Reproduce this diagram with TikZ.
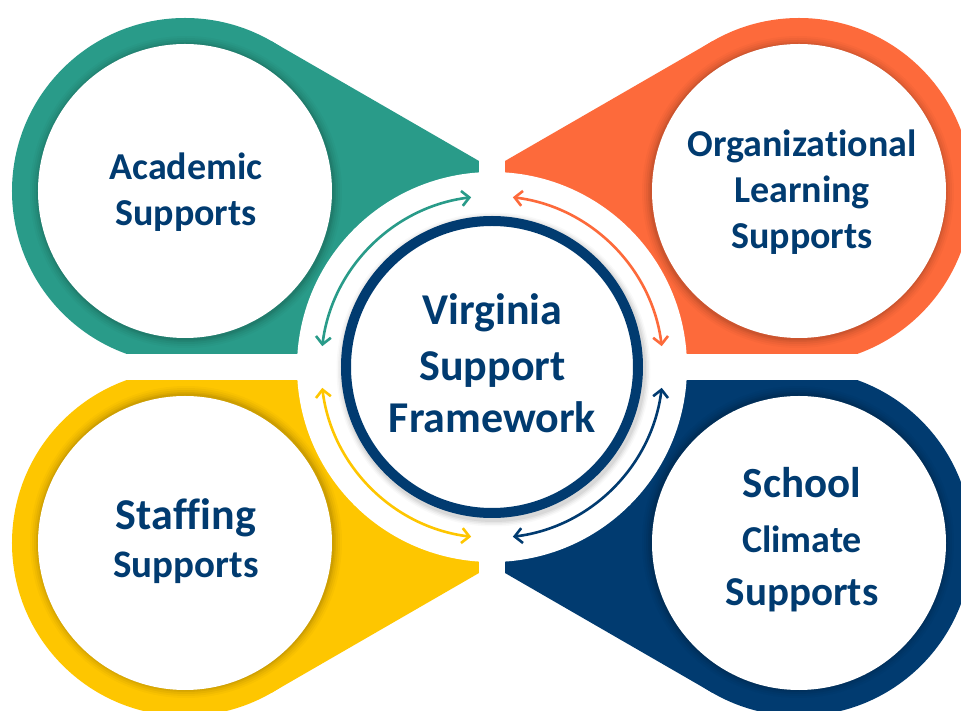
\documentclass[tikz,border=0pt]{standalone}
\usepackage{fontspec}
\setmainfont{Carlito}[Ligatures=NoCommon]
\usetikzlibrary{arrows.meta}
\definecolor{vgreen}{HTML}{299B89}
\definecolor{vorange}{HTML}{FD6A3B}
\definecolor{vyellow}{HTML}{FEC600}
\definecolor{vnavy}{HTML}{013B70}
\newcommand\vspetal[1]{%
  \fill[#1] (-307,176) circle[radius=173];
  \fill[#1] (-220.5,325.8) -- (0,198.5) -- (0,0) -- (-307,0) -- (-307,176) -- cycle;
  \foreach \k/\o in {9/0.025,7/0.03,5/0.04,3/0.05,1.5/0.06}
    \fill[black,opacity=\o] (-306,175) circle[radius=147+\k];
  \fill[white] (-307,176) circle[radius=147];
}
\begin{document}
\begin{tikzpicture}[x=1pt,y=1pt,
  lbl/.style={text=vnavy, anchor=base, inner sep=0pt},
  cyclearrow/.style={line width=2.6pt,
    {Straight Barb[length=7.5pt,width=15pt]}-{Straight Barb[length=7.5pt,width=15pt]}}]
\useasboundingbox (-492,-344) rectangle (469,367);
\clip (-492,-344) rectangle (469,367);
\fill[white] (-492,-344) rectangle (469,367);
% petals
\begin{scope}\vspetal{vgreen}\end{scope}
\begin{scope}[xscale=-1]\vspetal{vorange}\end{scope}
\begin{scope}[yscale=-1]\vspetal{vyellow}\end{scope}
\begin{scope}[scale=-1]\vspetal{vnavy}\end{scope}
% white gaps
\fill[white] (-13,-400) rectangle (13,400);
\fill[white] (-500,-13) rectangle (500,13);
\fill[white] (0,0) circle[radius=195];
% arrows
\draw[cyclearrow, vgreen] (97:171) arc[start angle=97, end angle=173, radius=171];
\draw[cyclearrow, vorange] (7:171) arc[start angle=7, end angle=83, radius=171];
\draw[cyclearrow, vyellow] (187:171) arc[start angle=187, end angle=263, radius=171];
\draw[cyclearrow, vnavy] (277:171) arc[start angle=277, end angle=353, radius=171];
% center ring with shadow
\foreach \k/\o in {12/0.025,9/0.035,6/0.045,3/0.055}
  \draw[black,opacity=\o,line width=10pt+\k pt] (1.5,-2.5) circle[radius=146];
\node[circle, draw=vnavy, line width=10pt, fill=white, minimum size=292pt, inner sep=0pt] (core) at (0,0) {};
% texts
\node[lbl, font=\bfseries\fontsize{38}{45}\selectfont] (acadA) at (-306,187) {Academic};
\node[lbl, font=\bfseries\fontsize{38}{45}\selectfont] (acadB) at (-306,141) {Supports};
\node[lbl, font=\bfseries\fontsize{38}{45}\selectfont] (orgA) at (310,210) {Organizational};
\node[lbl, font=\bfseries\fontsize{38}{45}\selectfont] (orgB) at (310,164) {Learning};
\node[lbl, font=\bfseries\fontsize{38}{45}\selectfont] (orgC) at (310,118) {Supports};
\node[lbl, font=\bfseries\fontsize{44}{52}\selectfont] (stafA) at (-306,-163) {Staffing};
\node[lbl, font=\bfseries\fontsize{39}{46}\selectfont] (stafB) at (-306,-211) {Supports};
\node[lbl, font=\bfseries\fontsize{43}{51}\selectfont] (schA) at (310,-131) {School};
\node[lbl, font=\bfseries\fontsize{38}{45}\selectfont] (schB) at (310,-186) {Climate};
\node[lbl, font=\bfseries\fontsize{41}{49}\selectfont] (schC) at (310,-239) {Supports};
\node[lbl, font=\bfseries\fontsize{44}{52}\selectfont] (vsfA) at (0.5,42) {Virginia};
\node[lbl, font=\bfseries\fontsize{44}{52}\selectfont] (vsfB) at (0.5,-14) {Support};
\node[lbl, font=\bfseries\fontsize{44}{52}\selectfont] (vsfC) at (0.5,-66) {Framework};
\end{tikzpicture}
\end{document}
